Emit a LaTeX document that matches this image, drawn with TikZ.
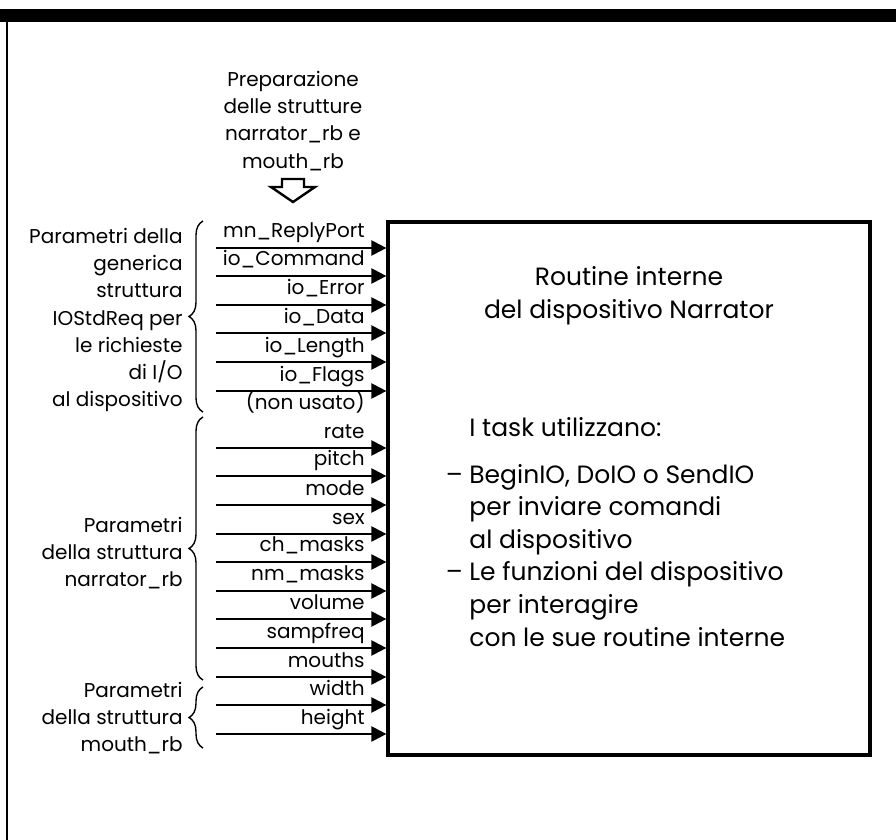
\documentclass[tikz,border=0pt]{standalone}
\usepackage{fontspec}
\setmainfont{Poppins}
\usepackage{tikz}
\usetikzlibrary{arrows.meta,decorations.pathreplacing}

\begin{document}
\begin{tikzpicture}[x=0.5pt, y=-0.5pt, >={Triangle[length=7.5pt,width=7.5pt]},
	every node/.style={inner sep=0pt},
	small/.style={font=\fontsize{10}{13.6}\selectfont},
	big/.style={font=\fontsize{12.5}{16.3}\selectfont},
	par/.style={small, anchor=base east},
	feed/.style={->, line width=1.1pt},
	grp/.style={small, align=right, anchor=east},
	curly/.style={decorate, decoration={brace, amplitude=7pt}, line width=0.7pt}]
			\useasboundingbox (0,0) rectangle (896,840);
			\fill (0,9) rectangle (896,22);
			\draw[line width=0.8pt] (7,22) -- (7,840);
			
			\node[draw, line width=1.6pt, minimum width=241pt, minimum height=266.5pt] (box) at (629,488.5) {};
			\node[big, align=center] (title) at (629,296) {Routine interne\\del dispositivo Narrator};
			\node[big, align=left, anchor=north west] (tasks) at (469,417) {I task utilizzano:\\[7pt]\llap{-- }BeginIO, DoIO o SendIO\\per inviare comandi\\al dispositivo\\\llap{-- }Le funzioni del dispositivo\\per interagire\\con le sue routine interne};
			
			\node[small, align=center] (prep) at (293,121) {Preparazione\\delle strutture\\narrator\_rb e\\mouth\_rb};
			\draw[line width=1.2pt] (282,179) -- (304,179) -- (304,187) -- (315,187) -- (293,202) -- (271,187) -- (282,187) -- cycle;
			
			\node[par] (port) at (365,238) {mn\_ReplyPort};
			\node[par] (cmd) at (365,266) {io\_Command};
			\node[par] (err) at (365,295) {io\_Error};
			\node[par] (data) at (365,323) {io\_Data};
			\node[par] (len) at (365,352) {io\_Length};
			\node[par] (flags) at (365,381) {io\_Flags};
			\node[par] (unused) at (365,409) {(non usato)};
			\node[par] (rate) at (365,438) {rate};
			\node[par] (pitch) at (365,466) {pitch};
			\node[par] (mode) at (365,495) {mode};
			\node[par] (sex) at (365,524) {sex};
			\node[par] (ch) at (365,552) {ch\_masks};
			\node[par] (nm) at (365,581) {nm\_masks};
			\node[par] (vol) at (365,609) {volume};
			\node[par] (freq) at (365,638) {sampfreq};
			\node[par] (mouths) at (365,667) {mouths};
			\node[par] (wid) at (365,695) {width};
			\node[par] (hei) at (365,724) {height};
			
			\coordinate (a1) at (216,248);
			\coordinate (a2) at (216,276);
			\coordinate (a3) at (216,305);
			\coordinate (a4) at (216,333);
			\coordinate (a5) at (216,362);
			\coordinate (a6) at (216,391);
			\coordinate (b1) at (216,448);
			\coordinate (b2) at (216,476);
			\coordinate (b3) at (216,505);
			\coordinate (b4) at (216,534);
			\coordinate (b5) at (216,562);
			\coordinate (b6) at (216,591);
			\coordinate (b7) at (216,619);
			\coordinate (b8) at (216,648);
			\coordinate (b9) at (216,677);
			\coordinate (c1) at (216,705);
			\coordinate (c2) at (216,734);
			
			\draw[feed] (a1) -- (a1 -| box.west);
			\draw[feed] (a2) -- (a2 -| box.west);
			\draw[feed] (a3) -- (a3 -| box.west);
			\draw[feed] (a4) -- (a4 -| box.west);
			\draw[feed] (a5) -- (a5 -| box.west);
			\draw[feed] (a6) -- (a6 -| box.west);
			\draw[feed] (b1) -- (b1 -| box.west);
			\draw[feed] (b2) -- (b2 -| box.west);
			\draw[feed] (b3) -- (b3 -| box.west);
			\draw[feed] (b4) -- (b4 -| box.west);
			\draw[feed] (b5) -- (b5 -| box.west);
			\draw[feed] (b6) -- (b6 -| box.west);
			\draw[feed] (b7) -- (b7 -| box.west);
			\draw[feed] (b8) -- (b8 -| box.west);
			\draw[feed] (b9) -- (b9 -| box.west);
			\draw[feed] (c1) -- (c1 -| box.west);
			\draw[feed] (c2) -- (c2 -| box.west);
			
			\node[grp] (iostd) at (183,320) {Parametri della\\generica\\struttura\\IOStdReq per\\le richieste\\di I/O\\al dispositivo};
			\node[grp] (narr) at (183,553) {Parametri\\della struttura\\narrator\_rb};
			\node[grp] (mouth) at (183,718) {Parametri\\della struttura\\mouth\_rb};
			
			\draw[curly] (203,412) -- (203,221);
			\draw[curly] (203,680) -- (203,417);
			\draw[curly] (203,748) -- (203,687);
		\end{tikzpicture}
\end{document}
